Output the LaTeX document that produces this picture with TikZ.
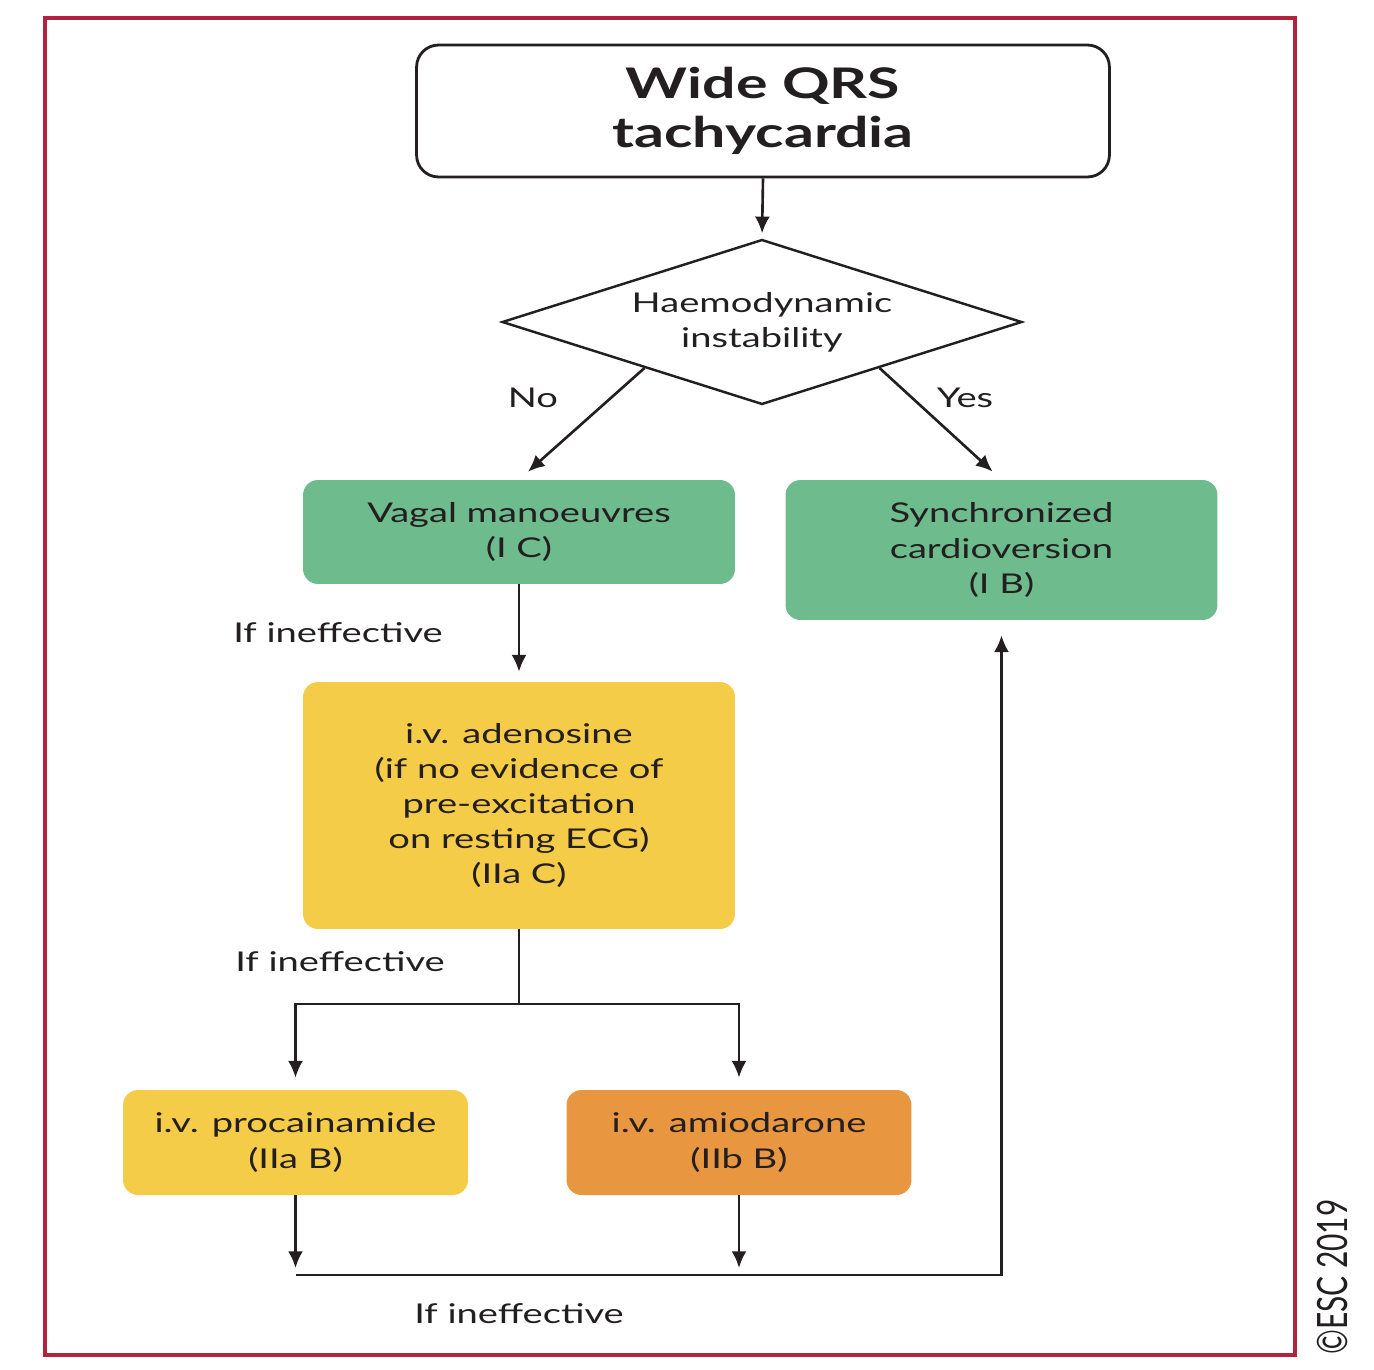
\documentclass[tikz,border=0pt]{standalone}
\usepackage{fontspec}
\setmainfont{Lato}[FakeStretch=1.4]
\newfontfamily\escfont{Lato}
\usepackage{tikz}
\usetikzlibrary{positioning}
\usetikzlibrary{shapes.geometric}
\usetikzlibrary{arrows.meta}
\usetikzlibrary{calc}
\usepackage{xcolor}
\definecolor{escred}{RGB}{178,36,62}
\definecolor{escgreen}{RGB}{110,187,141}
\definecolor{escyellow}{RGB}{245,204,72}
\definecolor{escorange}{RGB}{232,150,64}
\definecolor{inkgray}{RGB}{35,31,32}

\begin{document}
\begin{tikzpicture}[
		x=0.02cm, y=-0.02cm,
		every node/.style={text=inkgray, font=\fontsize{15.5}{20}\selectfont},
		titlenode/.style={rectangle, rounded corners=0.44cm, draw=inkgray, line width=1.6pt, minimum width=13.86cm, minimum height=2.64cm, align=center, font=\fontsize{24}{27.5}\selectfont\bfseries},
		decisionnode/.style={diamond, aspect=3.15, draw=inkgray, line width=1.4pt, inner sep=0pt, minimum width=10.4cm, minimum height=3.3cm, align=center},
		stepnode/.style={rectangle, rounded corners=0.3cm, draw=none, align=center, minimum width=8.64cm},
		smallnode/.style={rectangle, rounded corners=0.3cm, draw=none, align=center, minimum width=6.9cm, minimum height=2.1cm},
		labelnode/.style={draw=none, fill=none},
		plainline/.style={line width=1.5pt, draw=inkgray},
		arrowline/.style={plainline, -{Latex[length=9.5pt,width=8.5pt]}},
		]
		\useasboundingbox (0,0) rectangle (1374,1370);
		% Frame
		\draw[escred, line width=2.2pt] (45,18) rectangle (1295,1355);
		
		%Nodes
		\node[titlenode]                   (wide)    at (763,111)      {Wide QRS\\tachycardia};
		\node[decisionnode]                (haemo)   at (762,322)      {Haemodynamic\\instability};
		\node[stepnode, fill=escgreen, minimum height=2.08cm]  (vagal) at (519,532)    {Vagal manoeuvres\\(I C)};
		\node[stepnode, fill=escgreen, minimum height=2.8cm]   (sync)  at (1001.5,550) {Synchronized\\cardioversion\\(I B)};
		\node[stepnode, fill=escyellow, minimum height=4.94cm] (adeno) at (519,805.5)  {i.v. adenosine\\(if no evidence of\\pre-excitation\\on resting ECG)\\(IIa C)};
		\node[smallnode, fill=escyellow]   (procain) at (295.5,1142.5) {i.v. procainamide\\(IIa B)};
		\node[smallnode, fill=escorange]   (amio)    at (739,1142.5)   {i.v. amiodarone\\(IIb B)};
		
		% Labels
		\node[labelnode] (no)     at (533,398)  {No};
		\node[labelnode] (yes)    at (965,398)  {Yes};
		\node[labelnode] (ineff-1) at (338,633)  {If ineffective};
		\node[labelnode] (ineff-2) at (340,962)  {If ineffective};
		\node[labelnode] (ineff-3) at (519,1314) {If ineffective};
		\node[labelnode, rotate=90, font=\escfont\fontsize{17}{20}\selectfont] (esc) at (1333,1277) {\scalebox{1}[1.4]{©ESC 2019}};
		
		% Coordinates
		\coordinate (no-start)  at ($(haemo.west)!0.55!(haemo.south)$);
		\coordinate (yes-start) at ($(haemo.east)!0.55!(haemo.south)$);
		\coordinate (split) at (519,1004);
		\coordinate (merge) at (1001.5,1275);
		
		%Lines
		\draw[arrowline, shorten >=0.1cm]  (wide.south) -- (haemo.north);
		\draw[arrowline, shorten >=0.24cm] (no-start) -- (vagal.north);
		\draw[arrowline, shorten >=0.24cm] (yes-start) -- (sync.north);
		\draw[arrowline, shorten >=0.2cm]  (vagal.south) -- (adeno.north);
		\draw[plainline] (adeno.south) -- (split);
		\draw[arrowline, shorten >=0.24cm] (split) -| (procain.north);
		\draw[arrowline, shorten >=0.24cm] (split) -| (amio.north);
		\draw[arrowline, shorten >=0.14cm] (procain.south) -- (procain.south |- merge);
		\draw[arrowline, shorten >=0.14cm] (amio.south) -- (amio.south |- merge);
		\draw[arrowline, shorten >=0.3cm]  (procain.south |- merge) -- (merge) -- (sync.south);
	\end{tikzpicture}
\end{document}
